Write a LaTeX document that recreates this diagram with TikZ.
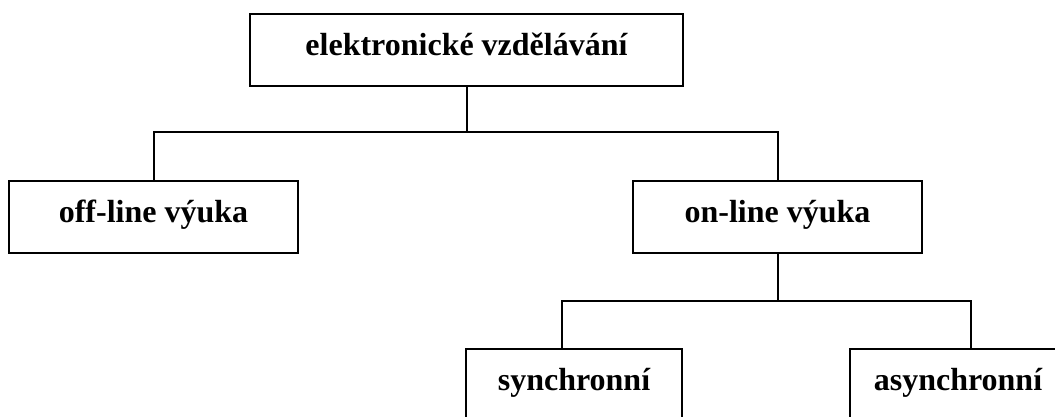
\documentclass[tikz,border=0pt]{standalone}
\usepackage{fontspec}
\setmainfont{Liberation Serif}
\begin{document}
\begin{tikzpicture}[x=1pt,y=1pt,
  box/.style={draw=black, line width=2pt, rectangle, inner sep=0pt,
    minimum height=72pt, text height=20pt, text depth=9pt,
    font=\fontsize{32}{38}\selectfont\bfseries},
  conn/.style={draw=black, line width=2pt}]
\useasboundingbox (0,0) rectangle (1055,-416);
\clip (0,0) rectangle (1055,-416);
\node[box, minimum width=433pt] (top) at (466.5,-49.5) {elektronické vzdělávání};
\node[box, minimum width=289pt] (off) at (153.5,-217) {off-line výuka};
\node[box, minimum width=289pt] (on) at (777.5,-217) {on-line výuka};
\node[box, minimum width=216pt] (sync) at (574,-385) {synchronní};
\node[box, minimum width=216pt] (async) at (958,-385) {asynchronní};
\coordinate (j1) at (466.5,-132);
\coordinate (j2) at (777.5,-301);
\coordinate (s1) at (562,-301);
\coordinate (a1) at (971,-301);
\draw[conn] (top.south) -- (j1);
\draw[conn] (off.north) |- (j1) -| (on.north);
\draw[conn] (on.south) -- (j2);
\draw[conn] (s1 |- sync.north) -- (s1) -- (a1) -- (a1 |- async.north);
\end{tikzpicture}
\end{document}
